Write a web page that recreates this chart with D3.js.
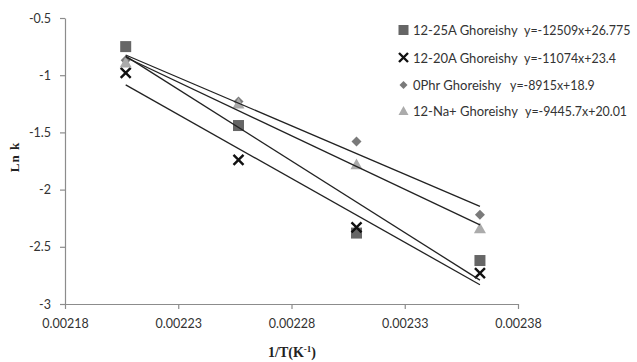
<!DOCTYPE html>
<html><head><meta charset="utf-8">
<script src="https://cdn.jsdelivr.net/npm/d3@7"></script>
<style>body{margin:0;background:#fff;} svg{display:block;}</style>
</head><body>
<svg id="c" width="637" height="362"></svg>
<script>
const xValues = [0.0022068, 0.0022566, 0.0023087, 0.0023632];
const seriesNames = ["12-25A Ghoreishy", "12-20A Ghoreishy", "0Phr Ghoreishy", "12-Na+ Ghoreishy"];
const equations = ["y=-12509x+26.775", "y=-11074x+23.4", "y=-8915x+18.9", "y=-9445.7x+20.01"];
const s25A = [-0.75, -1.44, -2.38, -2.62];
const s20A = [-0.98, -1.74, -2.33, -2.73];
const s0Phr = [-0.87, -1.23, -1.58, -2.22];
const sNa = [-0.89, -1.25, -1.78, -2.34];
const xTicks = [0.00218, 0.00223, 0.00228, 0.00233, 0.00238];
const yTicks = [-0.5, -1, -1.5, -2, -2.5, -3];

const series = [
  {name: seriesNames[0], eq: equations[0], vals: s25A, sym: "square", color: "#666666"},
  {name: seriesNames[1], eq: equations[1], vals: s20A, sym: "x", color: "#111111"},
  {name: seriesNames[2], eq: equations[2], vals: s0Phr, sym: "diamond", color: "#7a7a7a"},
  {name: seriesNames[3], eq: equations[3], vals: sNa, sym: "triangle", color: "#ababab"}
];

const svg = d3.select("#c");
const x = d3.scaleLinear().domain([0.00218, 0.00238]).range([65, 518]);
const y = d3.scaleLinear().domain([-3, -0.5]).range([304, 18]);
const font = "Lato, 'Open Sans', sans-serif";

// axes
const xAxis = svg.append("g").attr("transform", "translate(0,304)")
  .call(d3.axisBottom(x).tickValues(xTicks).tickFormat(d3.format(".5f")).tickSize(5).tickSizeOuter(0));
const yAxis = svg.append("g").attr("transform", "translate(65,0)")
  .call(d3.axisLeft(y).tickValues(yTicks).tickFormat(d => String(d)).tickSize(5).tickSizeOuter(0));
[xAxis, yAxis].forEach(g => {
  g.select(".domain").attr("stroke", "#8c8c8c").attr("stroke-width", 1.2);
  g.selectAll(".tick line").attr("stroke", "#8c8c8c").attr("stroke-width", 1.2);
  g.selectAll(".tick text").attr("fill", "#333").style("font-family", font).style("font-size", "12.5px");
});
xAxis.selectAll(".tick text").attr("dy", "1.3em");
yAxis.selectAll(".tick text").attr("x", -14);

function drawMarker(g, sym, cx, cy, color, size) {
  if (sym === "square") {
    const r = size || 5.5;
    g.append("rect").attr("x", cx - r).attr("y", cy - r).attr("width", 2 * r).attr("height", 2 * r).attr("fill", color);
  } else if (sym === "x") {
    const r = size || 5;
    g.append("path").attr("d", `M${cx - r},${cy - r}L${cx + r},${cy + r}M${cx - r},${cy + r}L${cx + r},${cy - r}`)
      .attr("stroke", color).attr("stroke-width", 2.4).attr("fill", "none");
  } else if (sym === "diamond") {
    const r = size || 5;
    g.append("path").attr("d", `M${cx},${cy - r}L${cx + r},${cy}L${cx},${cy + r}L${cx - r},${cy}Z`).attr("fill", color);
  } else if (sym === "triangle") {
    const r = size || 6;
    g.append("path").attr("d", `M${cx},${cy - r}L${cx + r},${cy + r * 0.8}L${cx - r},${cy + r * 0.8}Z`).attr("fill", color);
  }
}

// markers
const mg = svg.append("g");
series.forEach(s => {
  s.vals.forEach((v, i) => drawMarker(mg, s.sym, x(xValues[i]), y(v), s.color));
});

// trendlines (least squares of each series)
const lg = svg.append("g");
series.forEach(s => {
  const mx = d3.mean(xValues), my = d3.mean(s.vals);
  const sxy = d3.sum(xValues, (xv, i) => (xv - mx) * (s.vals[i] - my));
  const sxx = d3.sum(xValues, xv => (xv - mx) * (xv - mx));
  const m = sxy / sxx, b = my - m * mx;
  const x0 = xValues[0], x1 = xValues[xValues.length - 1];
  lg.append("line").attr("x1", x(x0)).attr("y1", y(m * x0 + b)).attr("x2", x(x1)).attr("y2", y(m * x1 + b))
    .attr("stroke", "#222").attr("stroke-width", 1.3);
});

// legend
const leg = svg.append("g");
const rowY = [30, 57.5, 85, 111];
const eqX = [524, 524, 510, 525];
series.forEach((s, i) => {
  drawMarker(leg, s.sym, 403.5, rowY[i], s.color, s.sym === "diamond" ? 4 : (s.sym === "x" ? 4.5 : 5));
  leg.append("text").attr("x", 413).attr("y", rowY[i] + 5).text(s.name)
    .style("font-family", font).style("font-size", "13px").attr("fill", "#333");
  leg.append("text").attr("x", eqX[i]).attr("y", rowY[i] + 5).text(s.eq)
    .style("font-family", font).style("font-size", "12.4px").attr("fill", "#333");
});

// axis titles
svg.append("text").attr("transform", "translate(19,157) rotate(-90)").attr("text-anchor", "middle")
  .style("font-family", "'Liberation Serif', serif").style("font-weight", "bold").style("font-size", "13px")
  .style("letter-spacing", "1px").attr("fill", "#222").text("Ln  k");
const xt = svg.append("text").attr("x", 292).attr("y", 357).attr("text-anchor", "middle")
  .style("font-family", "'Liberation Serif', serif").style("font-weight", "bold").style("font-size", "14px").attr("fill", "#222");
xt.append("tspan").text("1/T(K");
xt.append("tspan").attr("dy", -5).style("font-size", "9px").text("-1");
xt.append("tspan").attr("dy", 5).text(")");
</script>
</body></html>
